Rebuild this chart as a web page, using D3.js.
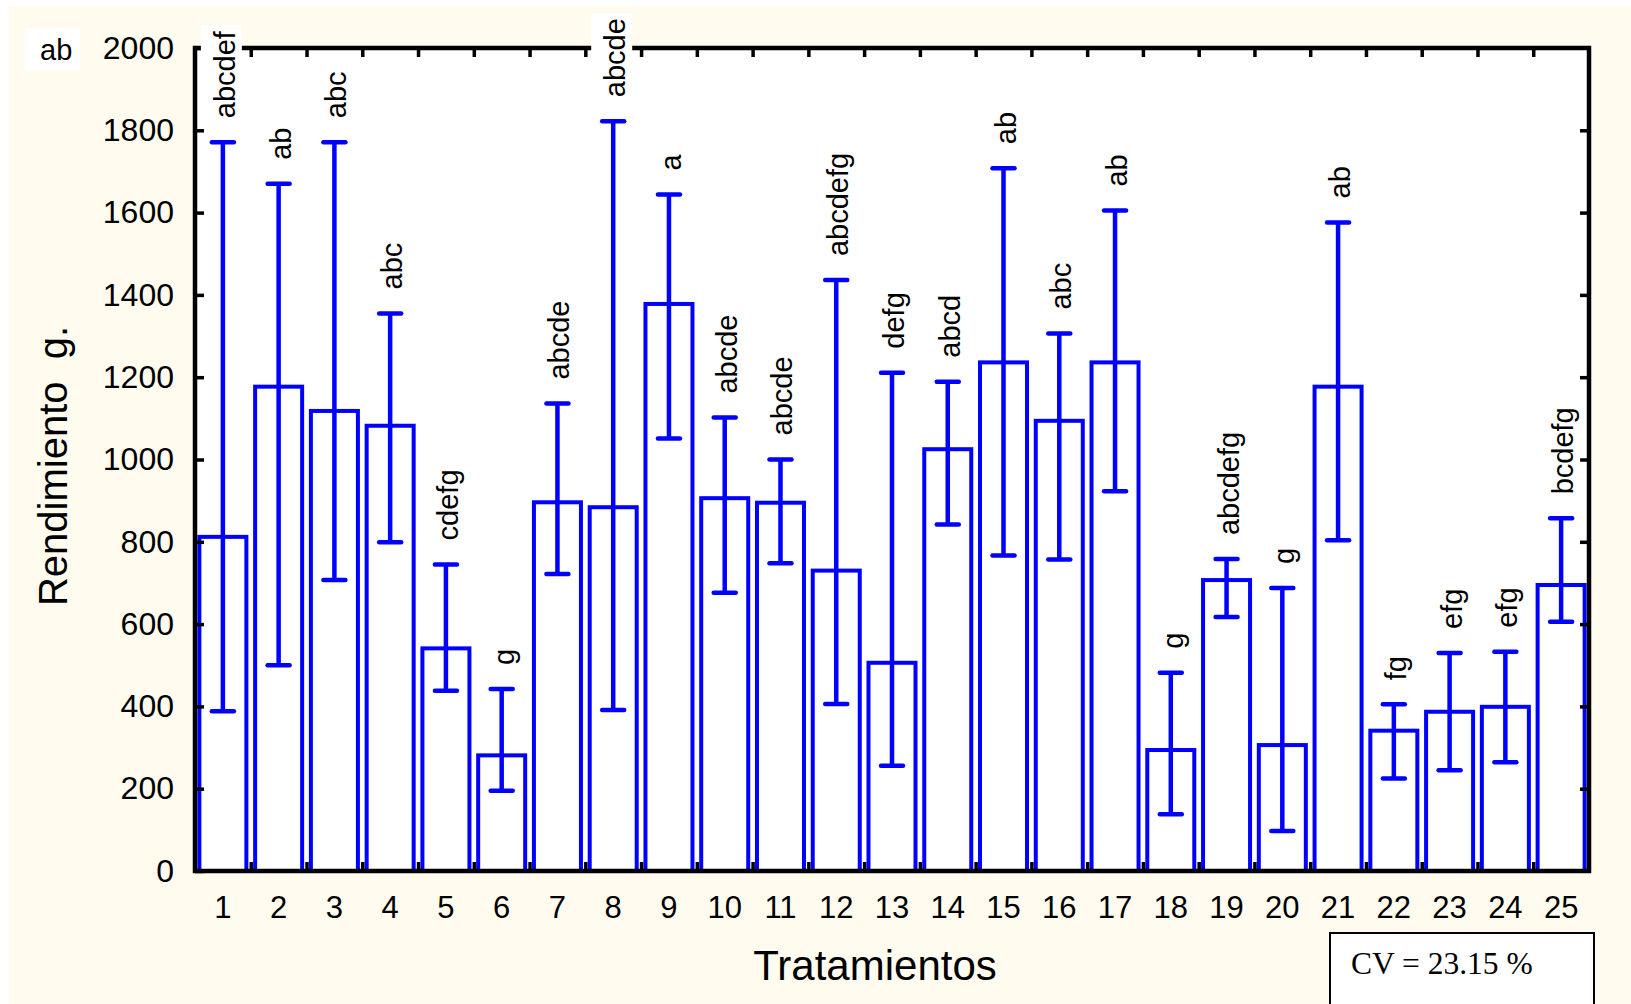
<!DOCTYPE html>
<html>
<head>
<meta charset="utf-8">
<script src="https://cdn.jsdelivr.net/npm/d3@7"></script>
<style>
  body { margin: 0; background: #fff; }
  svg { display: block; }
  text { font-family: 'Liberation Sans', Arial, sans-serif; }
</style>
</head>
<body>
<div class="svg-div"></div>
<script>
const treatments = ['1','2','3','4','5','6','7','8','9','10','11','12','13','14','15','16','17','18','19','20','21','22','23','24','25']
const means = [812, 1177, 1118, 1082, 541, 281, 896, 884, 1378, 906, 895, 730, 506, 1025, 1236, 1094, 1236, 294, 707, 306, 1177, 341, 387, 399, 695]
const upper = [1771, 1670, 1771, 1355, 745, 442, 1136, 1822, 1644, 1102, 1000, 1436, 1211, 1189, 1708, 1306, 1605, 482, 758, 688, 1576, 405, 530, 533, 857]
const lower = [388, 500, 707, 799, 438, 195, 722, 391, 1051, 676, 748, 406, 256, 842, 767, 757, 923, 138, 617, 97, 804, 225, 245, 264, 606]
const letters = ['abcdef', 'ab', 'abc', 'abc', 'cdefg', 'g', 'abcde', 'abcde', 'a', 'abcde', 'abcde', 'abcdefg', 'defg', 'abcd', 'ab', 'abc', 'ab', 'g', 'abcdefg', 'g', 'ab', 'fg', 'efg', 'efg', 'bcdefg']
const yTicks = [0, 200, 400, 600, 800, 1000, 1200, 1400, 1600, 1800, 2000]
const strayLabel = 'ab'
const cvText = 'CV = 23.15 %'

const w = 1631
const h = 1004
const plotL = 195, plotR = 1589, plotT = 48, plotB = 871
const blue = '#0000ff'

const svg = d3.select('.svg-div')
    .append('svg')
    .attr('width', w)
    .attr('height', h)

// cream page + white plot area
svg.append('rect').attr('x', 9).attr('y', 6).attr('width', w - 9).attr('height', h - 6).attr('fill', '#fffcef')
svg.append('rect').attr('x', plotL).attr('y', plotT).attr('width', plotR - plotL).attr('height', plotB - plotT).attr('fill', '#fff')

const xScale = d3.scaleBand()
    .domain(treatments)
    .range([plotL, plotR])
    .paddingInner(0.157)
    .paddingOuter(0.0785)

const xEdge = d3.scaleLinear().domain([0, treatments.length]).range([plotL, plotR])

const yScale = d3.scaleLinear()
    .domain([0, 2000])
    .range([plotB, plotT])

const cx = (i) => xScale(treatments[i]) + xScale.bandwidth() / 2

// bars
svg.selectAll('rect.bar')
    .data(means)
    .enter()
    .append('rect')
    .attr('class', 'bar')
    .attr('x', (d, i) => xScale(treatments[i]))
    .attr('y', (d) => yScale(d))
    .attr('width', xScale.bandwidth())
    .attr('height', (d) => yScale(0) - yScale(d))
    .attr('fill', '#fff')
    .attr('stroke', blue)
    .attr('stroke-width', 4)

// error bars
const err = svg.append('g').attr('stroke', blue).attr('stroke-width', 4.5)
means.forEach((m, i) => {
    err.append('line')
        .attr('x1', cx(i)).attr('x2', cx(i))
        .attr('y1', yScale(upper[i])).attr('y2', yScale(lower[i]))
    ;[upper[i], lower[i]].forEach(v => {
        err.append('line')
            .attr('x1', cx(i) - 11).attr('x2', cx(i) + 11)
            .attr('y1', yScale(v)).attr('y2', yScale(v))
            .attr('stroke-linecap', 'round')
    })
})

// axes (ticks point inwards)
const tickStyle = g => {
    g.select('.domain').remove()
    g.selectAll('.tick line').attr('stroke', '#000').attr('stroke-width', 3.5)
}

svg.append('g')
    .attr('transform', 'translate(0,' + plotB + ')')
    .call(d3.axisBottom(xEdge).tickValues(d3.range(1, 25)).tickSize(-9).tickFormat(''))
    .call(tickStyle)

svg.append('g')
    .attr('transform', 'translate(0,' + plotT + ')')
    .call(d3.axisTop(xEdge).tickValues(d3.range(1, 25)).tickSize(-9).tickFormat(''))
    .call(tickStyle)

svg.append('g')
    .attr('id', 'x-axis')
    .attr('transform', 'translate(0,' + plotB + ')')
    .call(d3.axisBottom(xScale).tickSize(0).tickPadding(25))
    .call(g => g.select('.domain').remove())
    .selectAll('text')
    .attr('font-size', 31)
    .attr('fill', '#000')
    .style('font-family', "'Liberation Sans', Arial, sans-serif")

svg.append('g')
    .attr('id', 'y-axis')
    .attr('transform', 'translate(' + plotL + ',0)')
    .call(d3.axisLeft(yScale).tickValues(yTicks).tickSize(-9).tickPadding(21).tickFormat(d3.format('d')))
    .call(tickStyle)
    .selectAll('text')
    .attr('font-size', 32)
    .attr('fill', '#000')
    .style('font-family', "'Liberation Sans', Arial, sans-serif")

svg.append('g')
    .attr('transform', 'translate(' + plotR + ',0)')
    .call(d3.axisRight(yScale).tickValues(yTicks.slice(1, -1)).tickSize(-9).tickFormat(''))
    .call(tickStyle)

svg.append('rect')
    .attr('x', plotL).attr('y', plotT)
    .attr('width', plotR - plotL).attr('height', plotB - plotT)
    .attr('fill', 'none')
    .attr('stroke', '#000')
    .attr('stroke-width', 4.5)

// axis titles
svg.append('text')
    .attr('transform', 'translate(67,466) rotate(-90)')
    .attr('text-anchor', 'middle')
    .attr('font-size', 40)
    .style('white-space', 'pre')
    .text('Rendimiento  g.')

svg.append('text')
    .attr('x', 875)
    .attr('y', 980)
    .attr('text-anchor', 'middle')
    .attr('font-size', 42)
    .text('Tratamientos')

// significance letters, rotated, on white boxes
letters.forEach((t, i) => {
    const g = svg.append('g')
        .attr('transform', 'translate(' + (cx(i) + 12) + ',' + (yScale(upper[i]) - 24) + ') rotate(-90)')
    const txt = g.append('text').attr('font-size', 29).text(t)
    const bb = txt.node().getBBox()
    g.insert('rect', 'text')
        .attr('x', bb.x - 5).attr('y', bb.y - 8)
        .attr('width', bb.width + 10).attr('height', bb.height + 9)
        .attr('fill', '#fff')
})

// stray label top-left
svg.append('rect').attr('x', 25).attr('y', 28).attr('width', 55).attr('height', 42).attr('fill', '#fff')
svg.append('text').attr('x', 40).attr('y', 60).attr('font-size', 29).text(strayLabel)

// CV box
svg.append('rect')
    .attr('x', 1330).attr('y', 933)
    .attr('width', 264).attr('height', 90)
    .attr('fill', '#fff')
    .attr('stroke', '#000')
    .attr('stroke-width', 2)
svg.append('text')
    .attr('x', 1351).attr('y', 974)
    .attr('font-size', 31.5)
    .style('font-family', "'Liberation Serif', 'Times New Roman', serif")
    .text(cvText)
</script>
</body>
</html>
